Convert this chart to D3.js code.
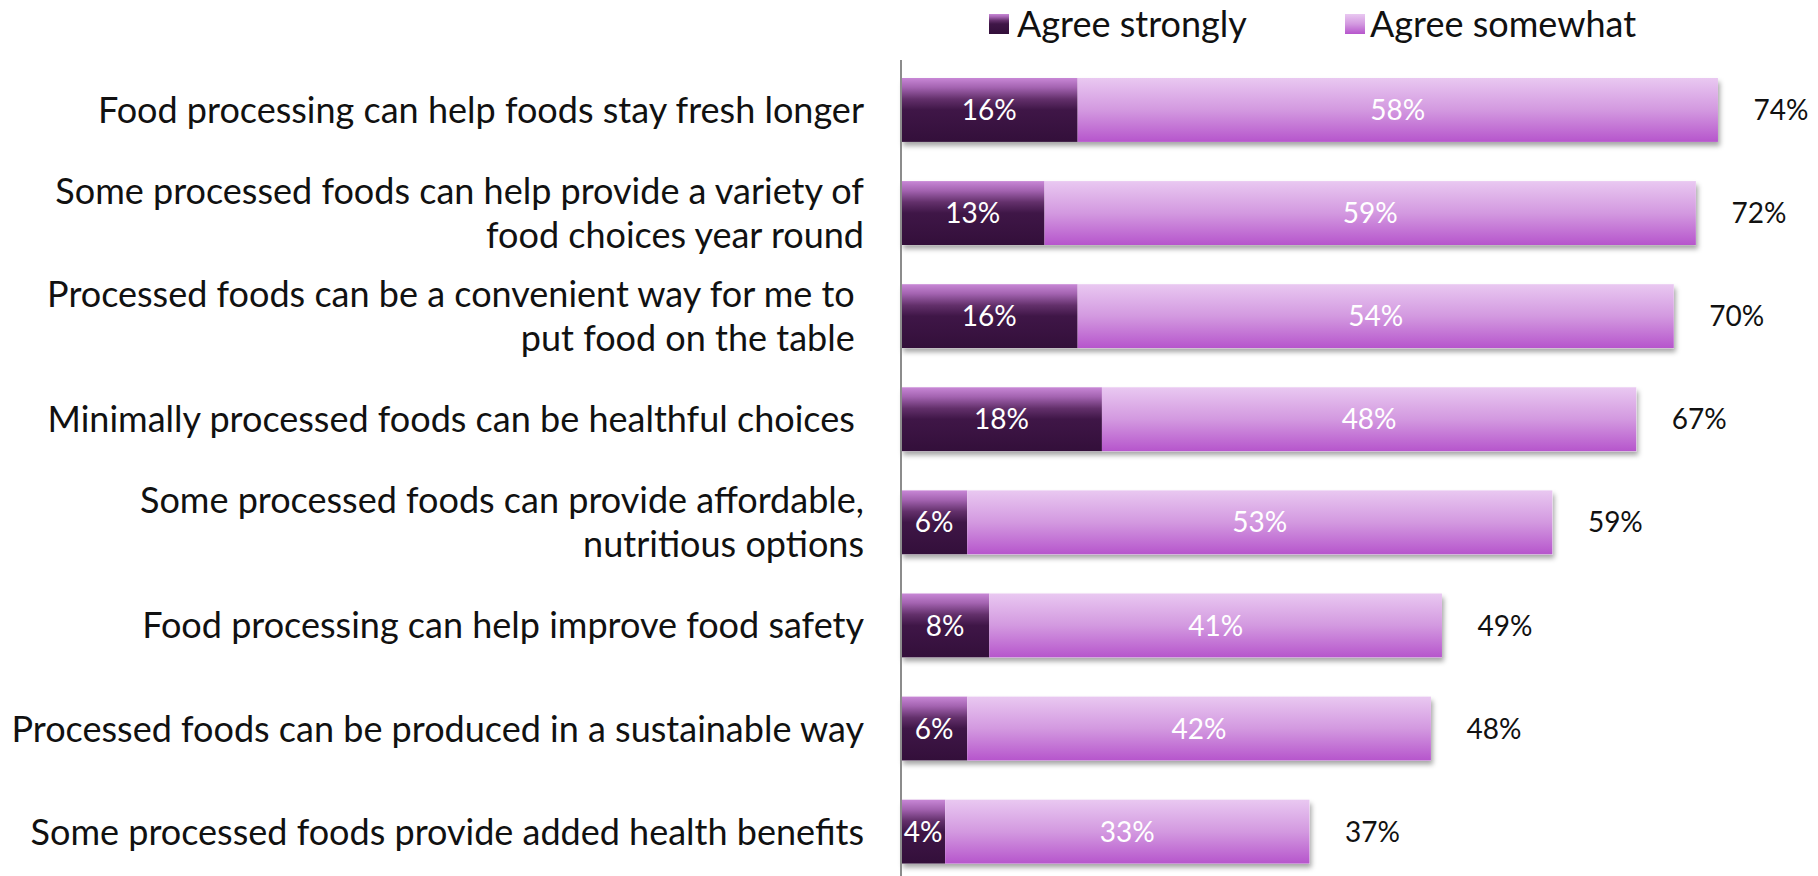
<!DOCTYPE html>
<html>
<head>
<meta charset="utf-8">
<script src="https://cdn.jsdelivr.net/npm/d3@7"></script>
<style>
  html, body { margin: 0; padding: 0; background: #fff; }
  svg { display: block; }
  text { font-family: Lato, "Open Sans", "Noto Sans", sans-serif; white-space: pre; }
</style>
</head>
<body>
<svg id="chart" width="1818" height="876"></svg>
<script>
// Survey statements (each entry is a list of text lines)
const categories = [
  ["Food processing can help foods stay fresh longer"],
  ["Some processed foods can help provide a variety of", "food choices year round"],
  ["Processed foods can be a convenient way for me to ", "put food on the table "],
  ["Minimally processed foods can be healthful choices "],
  ["Some processed foods can provide affordable,", "nutritious options"],
  ["Food processing can help improve food safety"],
  ["Processed foods can be produced in a sustainable way"],
  ["Some processed foods provide added health benefits"]
];
// Share of respondents (%)
const agreeStrongly  = [16, 13, 16, 18.2, 6, 8, 6, 4];
const agreeSomewhat  = [58, 59, 54, 48.4, 53, 41, 42, 33];
const seriesNames    = ["Agree strongly", "Agree somewhat"];

const svg = d3.select("#chart");
const defs = svg.append("defs");

// Vertical gradients for the two series
const darkGrad = defs.append("linearGradient").attr("id", "gStrong")
  .attr("x1", 0).attr("y1", 0).attr("x2", 0).attr("y2", 1);
[[0, "#c887d6"], [0.15, "#a363b0"], [0.33, "#63306b"], [0.5, "#3f1647"], [1, "#330f3a"]]
  .forEach(([o, c]) => darkGrad.append("stop").attr("offset", o).attr("stop-color", c));

const lightGrad = defs.append("linearGradient").attr("id", "gSome")
  .attr("x1", 0).attr("y1", 0).attr("x2", 0).attr("y2", 1);
[[0, "#e9c8f1"], [0.5, "#d399e0"], [1, "#b655cc"]]
  .forEach(([o, c]) => lightGrad.append("stop").attr("offset", o).attr("stop-color", c));

const shadow = defs.append("filter").attr("id", "shadow")
  .attr("x", "-5%").attr("y", "-20%").attr("width", "115%").attr("height", "150%");
shadow.append("feDropShadow").attr("dx", 2).attr("dy", 4).attr("stdDeviation", 2.5)
  .attr("flood-color", "#000").attr("flood-opacity", 0.35);

const fills = ["url(#gStrong)", "url(#gSome)"];

// Scales
const x = d3.scaleLinear().domain([0, 100]).range([901, 2005]);
const y = d3.scaleBand()
  .domain(d3.range(categories.length))
  .range([58.4, 883.2])
  .paddingInner(0.38)
  .paddingOuter(0.19);

// Stack the two series
const rows = categories.map((c, i) => ({ i, strong: agreeStrongly[i], some: agreeSomewhat[i] }));
const stacked = d3.stack().keys(["strong", "some"])(rows);

const fmt = v => Math.round(v) + "%";

// Soft shadow under each full bar
svg.append("g").selectAll("rect")
  .data(rows).join("rect")
  .attr("x", x(0))
  .attr("y", d => y(d.i))
  .attr("width", d => x(d.strong + d.some) - x(0))
  .attr("height", y.bandwidth())
  .attr("fill", "#fff")
  .attr("filter", "url(#shadow)");

// Bars
const groups = svg.append("g").selectAll("g.series")
  .data(stacked).join("g").attr("class", "series")
  .attr("fill", (d, k) => fills[k]);

groups.selectAll("rect")
  .data(d => d).join("rect")
  .attr("x", d => x(d[0]))
  .attr("y", d => y(d.data.i))
  .attr("width", d => x(d[1]) - x(d[0]))
  .attr("height", y.bandwidth());

// Segment value labels
groups.each(function(series) {
  d3.select(this).selectAll("text")
    .data(series).join("text")
    .attr("x", d => (x(d[0]) + x(d[1])) / 2)
    .attr("y", d => y(d.data.i) + y.bandwidth() / 2)
    .attr("dy", "0.36em")
    .attr("text-anchor", "middle")
    .attr("fill", "#fff")
    .attr("font-size", 28)
    .text(d => fmt(d[1] - d[0]));
});

// Totals to the right of each bar
svg.append("g").selectAll("text")
  .data(rows).join("text")
  .attr("x", d => x(d.strong + d.some) + 63)
  .attr("y", d => y(d.i) + y.bandwidth() / 2)
  .attr("dy", "0.36em")
  .attr("text-anchor", "middle")
  .attr("fill", "#111")
  .attr("font-size", 28)
  .text(d => fmt(d.strong + d.some));

// Category labels
const catSize = 36;
const lineH = 44;
const cat = svg.append("g").selectAll("text")
  .data(categories).join("text")
  .attr("text-anchor", "end")
  .attr("fill", "#111")
  .attr("font-size", catSize)
  .attr("y", (d, i) => y(i) + y.bandwidth() / 2);
cat.selectAll("tspan")
  .data(d => d.map((t, j) => ({ t, j, n: d.length })))
  .join("tspan")
  .attr("x", 864)
  .attr("dy", d => d.j === 0 ? (0.36 * catSize - (d.n - 1) * lineH / 2) : lineH)
  .text(d => d.t);

// Vertical axis line
svg.append("line")
  .attr("x1", x(0)).attr("x2", x(0))
  .attr("y1", 60).attr("y2", 876)
  .attr("stroke", "#8c8c8c").attr("stroke-width", 2);

// Legend
const legendX = [989, 1345];
const legend = svg.append("g").selectAll("g")
  .data(seriesNames).join("g")
  .attr("transform", (d, k) => `translate(${legendX[k]},14)`);
legend.append("rect")
  .attr("width", 20).attr("height", 20)
  .attr("fill", (d, k) => fills[k]);
legend.append("text")
  .attr("x", (d, k) => k === 0 ? 28 : 25)
  .attr("y", 10)
  .attr("dy", "0.36em")
  .attr("font-size", 36)
  .attr("fill", "#111")
  .text(d => d);
</script>
</body>
</html>
